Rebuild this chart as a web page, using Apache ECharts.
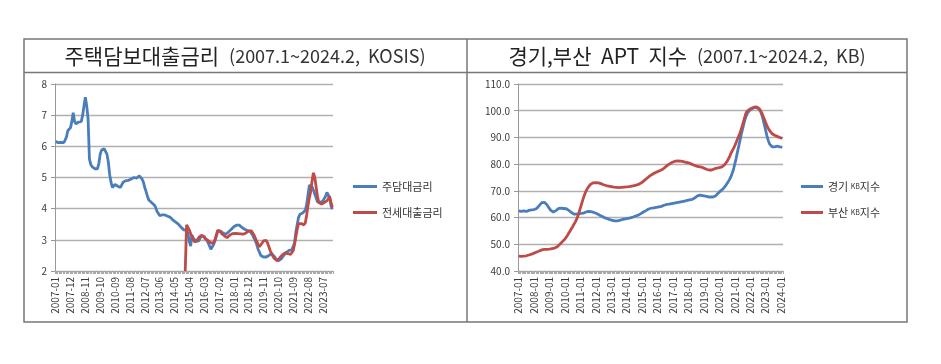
<!DOCTYPE html>
<html><head><meta charset="utf-8">
<script src="https://cdn.jsdelivr.net/npm/echarts@6/dist/echarts.min.js"></script>
<style>html,body{margin:0;padding:0;background:#fff}#c{width:941px;height:364px}</style>
</head><body><div id="c"></div>
<script>
// categories: monthly 2007-01 .. 2024-02
const months = [];
for (let y = 2007; y <= 2024; y++) for (let m = 1; m <= 12; m++) { if (y === 2024 && m > 2) break; months.push(y + '-' + String(m).padStart(2, '0')); }

const leftTitle = '주택담보대출금리';
const leftTitleNote = '(2007.1~2024.2,  KOSIS)';
const rightTitle = '경기,부산  APT  지수';
const rightTitleNote = '(2007.1~2024.2,  KB)';

const rateNames = ['주담대금리', '전세대출금리'];
const kbNames = ['경기 KB지수', '부산 KB지수'];

const rateMortgage = [
6.15,6.15,6.12,6.15,6.13,6.12,6.12,6.2,6.3,6.5,
6.55,6.6,6.8,7.08,6.8,6.72,6.75,6.78,6.78,6.8,
7.0,7.3,7.58,7.3,6.9,5.6,5.42,5.35,5.3,5.28,
5.27,5.28,5.45,5.75,5.88,5.92,5.92,5.88,5.75,5.5,
5.1,4.85,4.68,4.72,4.78,4.78,4.72,4.7,4.68,4.7,
4.85,4.9,4.9,4.9,4.91,4.92,4.95,5.0,5.0,5.0,
4.98,5.03,5.05,5.0,4.95,4.85,4.68,4.55,4.4,4.28,
4.22,4.2,4.15,4.12,4.05,3.92,3.85,3.78,3.75,3.8,
3.83,3.8,3.78,3.76,3.74,3.72,3.68,3.63,3.6,3.57,
3.54,3.5,3.45,3.4,3.36,3.32,3.27,3.3,3.2,2.95,
2.8,3.15,3.05,3.0,2.95,2.95,2.97,3.05,3.12,3.13,
3.1,3.07,3.0,2.9,2.8,2.7,2.72,2.85,2.97,3.1,
3.25,3.3,3.28,3.25,3.22,3.2,3.18,3.2,3.25,3.29,
3.33,3.38,3.42,3.46,3.47,3.48,3.47,3.45,3.4,3.36,
3.34,3.32,3.3,3.29,3.27,3.22,3.15,3.05,2.97,2.85,
2.7,2.6,2.5,2.47,2.45,2.43,2.45,2.48,2.5,2.53,
2.56,2.52,2.47,2.4,2.35,2.33,2.35,2.38,2.43,2.5,
2.54,2.6,2.65,2.66,2.67,2.68,2.72,2.9,3.25,3.5,
3.72,3.82,3.85,3.86,3.88,3.95,4.14,4.45,4.75,4.78,
4.7,4.6,4.47,4.35,4.22,4.2,4.2,4.22,4.25,4.3,
4.4,4.52,4.5,4.35,4.1,3.98];

// jeonse loan rate starts 2015-01 (index 96)
const jeonseStart = 96;
const rateJeonseFrom2015 = [
2.0,3.48,3.4,3.32,
3.2,3.1,3.0,2.93,2.92,3.0,3.07,3.12,3.15,3.18,
3.1,3.02,3.0,2.98,2.95,2.9,2.86,2.9,3.0,3.15,
3.3,3.34,3.28,3.2,3.15,3.13,3.1,3.07,3.1,3.15,
3.18,3.2,3.2,3.21,3.21,3.2,3.2,3.19,3.18,3.18,
3.2,3.22,3.26,3.29,3.3,3.29,3.22,3.15,3.05,2.95,
2.85,2.78,2.82,2.9,2.97,3.0,2.98,2.9,2.78,2.65,
2.55,2.47,2.4,2.35,2.33,2.37,2.42,2.47,2.52,2.55,
2.58,2.58,2.56,2.54,2.53,2.55,2.65,2.85,3.1,3.35,
3.52,3.56,3.52,3.5,3.48,3.55,3.8,4.1,4.35,4.55,
4.9,5.15,5.0,4.7,4.4,4.2,4.14,4.15,4.17,4.2,
4.22,4.25,4.32,4.4,4.2,4.04];

const kbGyeonggi = [
62.5,62.4,62.3,62.4,62.5,62.4,62.3,62.5,62.7,62.8,
62.9,62.9,63.0,63.2,63.4,63.8,64.5,65.2,65.6,65.8,
65.7,65.4,64.8,64.0,63.3,62.7,62.3,62.1,62.3,62.6,
63.0,63.4,63.6,63.5,63.4,63.4,63.5,63.3,63.0,62.7,
62.3,61.9,61.5,61.3,61.2,61.3,61.4,61.5,61.5,61.6,
61.7,61.8,62.0,62.2,62.3,62.3,62.2,62.1,62.0,61.8,
61.6,61.4,61.2,60.9,60.6,60.4,60.2,59.9,59.7,59.6,
59.4,59.2,59.1,58.9,58.8,58.8,58.8,58.8,58.9,59.0,
59.1,59.3,59.4,59.5,59.6,59.7,59.8,59.9,60.1,60.2,
60.4,60.6,60.8,60.9,61.2,61.5,61.8,62.1,62.4,62.6,
62.9,63.2,63.4,63.5,63.6,63.6,63.7,63.8,63.9,64.0,
64.1,64.2,64.4,64.6,64.8,64.9,64.9,65.0,65.1,65.2,
65.3,65.4,65.5,65.6,65.7,65.8,65.9,66.0,66.1,66.2,
66.3,66.4,66.5,66.6,66.7,66.8,67.0,67.4,67.8,68.1,
68.3,68.4,68.3,68.2,68.1,68.0,67.9,67.8,67.7,67.7,
67.7,67.7,67.8,68.1,68.6,69.1,69.6,70.0,70.4,70.8,
71.4,72.0,72.7,73.5,74.3,75.3,76.6,78.0,80.0,82.0,
84.3,86.5,88.7,91.0,93.0,95.0,96.8,98.1,99.2,99.8,
100.3,100.6,100.9,101.1,101.3,101.2,101.0,100.6,99.8,98.5,
96.8,94.8,92.7,90.6,88.9,87.6,86.9,86.5,86.4,86.5,
86.6,86.7,86.6,86.5,86.4,86.4];

const kbBusan = [
45.6,45.5,45.5,45.6,45.6,45.6,45.7,45.8,46.0,46.1,
46.3,46.5,46.7,46.9,47.1,47.3,47.5,47.7,47.9,48.0,
48.1,48.1,48.1,48.2,48.2,48.3,48.4,48.5,48.6,48.8,
49.1,49.5,50.0,50.5,51.0,51.5,52.0,52.6,53.4,54.2,
55.0,55.8,56.6,57.5,58.3,59.3,60.5,62.0,63.6,65.2,
66.8,68.3,69.5,70.5,71.3,72.0,72.5,72.8,73.0,73.1,
73.1,73.1,73.0,72.9,72.7,72.5,72.3,72.2,72.0,71.9,
71.8,71.7,71.6,71.5,71.4,71.3,71.3,71.2,71.2,71.2,
71.3,71.3,71.4,71.5,71.5,71.6,71.6,71.7,71.8,71.9,
72.0,72.1,72.2,72.4,72.6,72.9,73.2,73.6,74.0,74.4,
74.8,75.2,75.6,75.9,76.2,76.5,76.8,77.0,77.2,77.4,
77.6,77.8,78.1,78.5,78.9,79.3,79.7,80.0,80.3,80.6,
80.8,81.0,81.1,81.2,81.2,81.2,81.1,81.0,80.9,80.8,
80.7,80.6,80.5,80.3,80.1,79.9,79.7,79.5,79.3,79.2,
79.1,79.0,78.9,78.7,78.5,78.3,78.1,77.9,77.8,77.7,
77.8,78.0,78.2,78.4,78.5,78.6,78.7,78.8,79.0,79.3,
79.7,80.2,81.0,81.5,82.8,84.0,85.0,85.8,86.9,88.0,
89.2,90.4,91.6,93.0,94.6,96.3,98.0,99.4,100.0,100.4,
100.7,100.9,101.1,101.3,101.4,101.4,101.2,100.8,100.1,99.2,
98.0,96.8,95.6,94.4,93.4,92.6,91.9,91.4,91.1,90.8,
90.6,90.4,90.2,90.0,89.8,89.6];

const rateJeonse = new Array(jeonseStart).fill(null).concat(rateJeonseFrom2015);

const BLUE = '#4a7ebb', RED = '#be4b48';
const FONT = '"Noto Sans CJK KR", "Noto Sans", sans-serif';

const axisLabelStyle = { color: '#3a3a3a', fontSize: 10, fontFamily: FONT };
function xAxisFor(gridIndex, interval) {
  return {
    type: 'category', gridIndex, data: months, boundaryGap: true,
    axisLine: { lineStyle: { color: '#999', width: 1 } },
    axisTick: { show: true, interval: 0, length: 3, lineStyle: { color: '#aaa' } },
    axisLabel: Object.assign({ rotate: 90, interval, margin: 6 }, axisLabelStyle),
    splitLine: { show: false }
  };
}

const titleRich = {
  k: { fontSize: 21, fontFamily: FONT, fill: '#222' },
  e: { fontSize: 18, fontFamily: FONT, fill: '#333' }
};

const chart = echarts.init(document.getElementById('c'), null, { renderer: 'canvas' });
chart.setOption({
  backgroundColor: '#fff',
  animation: false,
  textStyle: { fontFamily: FONT },
  grid: [
    { left: 55, right: 608, top: 84, bottom: 93 },
    { left: 518, right: 158, top: 84, bottom: 93 }
  ],
  xAxis: [xAxisFor(0, 10), xAxisFor(1, 11)],
  yAxis: [
    { type: 'value', gridIndex: 0, min: 2, max: 8, interval: 1,
      axisLine: { show: true, lineStyle: { color: '#999' } },
      axisTick: { show: true, length: 4, lineStyle: { color: '#999' } },
      axisLabel: Object.assign({ margin: 8 }, axisLabelStyle),
      splitLine: { lineStyle: { color: '#b0b0b0', width: 1.4 } } },
    { type: 'value', gridIndex: 1, min: 40, max: 110, interval: 10,
      axisLine: { show: true, lineStyle: { color: '#999' } },
      axisTick: { show: true, length: 4, lineStyle: { color: '#999' } },
      axisLabel: Object.assign({ margin: 8, formatter: v => v.toFixed(1) }, axisLabelStyle),
      splitLine: { lineStyle: { color: '#b0b0b0', width: 1.4 } } }
  ],
  legend: [
    { data: rateNames, orient: 'vertical', left: 353, top: 181, padding: 0, itemWidth: 24, itemHeight: 3,
      icon: 'rect', itemGap: 15, textStyle: { fontSize: 11, color: '#333', fontFamily: FONT } },
    { data: kbNames, orient: 'vertical', left: 801, top: 181, padding: 0, itemWidth: 22, itemHeight: 3,
      icon: 'rect', itemGap: 15,
      formatter: n => { const p = n.split(' '); return p[0] + ' {s|' + p[1].slice(0, 2) + '}' + p[1].slice(2); },
      textStyle: { fontSize: 11, color: '#333', fontFamily: FONT, rich: { s: { fontSize: 7, color: '#333', fontFamily: FONT } } } }
  ],
  series: [
    { name: rateNames[0], type: 'line', xAxisIndex: 0, yAxisIndex: 0, data: rateMortgage,
      showSymbol: false, lineStyle: { color: BLUE, width: 2.8 }, itemStyle: { color: BLUE }, z: 3 },
    { name: rateNames[1], type: 'line', xAxisIndex: 0, yAxisIndex: 0, data: rateJeonse,
      showSymbol: false, connectNulls: false, lineStyle: { color: RED, width: 2.8 }, itemStyle: { color: RED }, z: 4 },
    { name: kbNames[0], type: 'line', xAxisIndex: 1, yAxisIndex: 1, data: kbGyeonggi,
      showSymbol: false, lineStyle: { color: BLUE, width: 2.8 }, itemStyle: { color: BLUE }, z: 3 },
    { name: kbNames[1], type: 'line', xAxisIndex: 1, yAxisIndex: 1, data: kbBusan,
      showSymbol: false, lineStyle: { color: RED, width: 2.8 }, itemStyle: { color: RED }, z: 4 }
  ],
  graphic: [
    { type: 'rect', shape: { x: 24, y: 39, width: 883, height: 283 }, style: { fill: null, stroke: '#777', lineWidth: 1.5 }, silent: true },
    { type: 'line', shape: { x1: 24, y1: 72.5, x2: 907, y2: 72.5 }, style: { stroke: '#777', lineWidth: 1.5 }, silent: true },
    { type: 'line', shape: { x1: 467, y1: 39, x2: 467, y2: 322 }, style: { stroke: '#777', lineWidth: 1.5 }, silent: true },
    { type: 'text', x: 245, y: 56, style: { text: '{k|' + leftTitle + '}   {e|' + leftTitleNote + '}', align: 'center', verticalAlign: 'middle', rich: titleRich }, silent: true },
    { type: 'text', x: 687, y: 56, style: { text: '{k|' + rightTitle + '}   {e|' + rightTitleNote + '}', align: 'center', verticalAlign: 'middle', rich: titleRich }, silent: true }
  ]
});
</script></body></html>
